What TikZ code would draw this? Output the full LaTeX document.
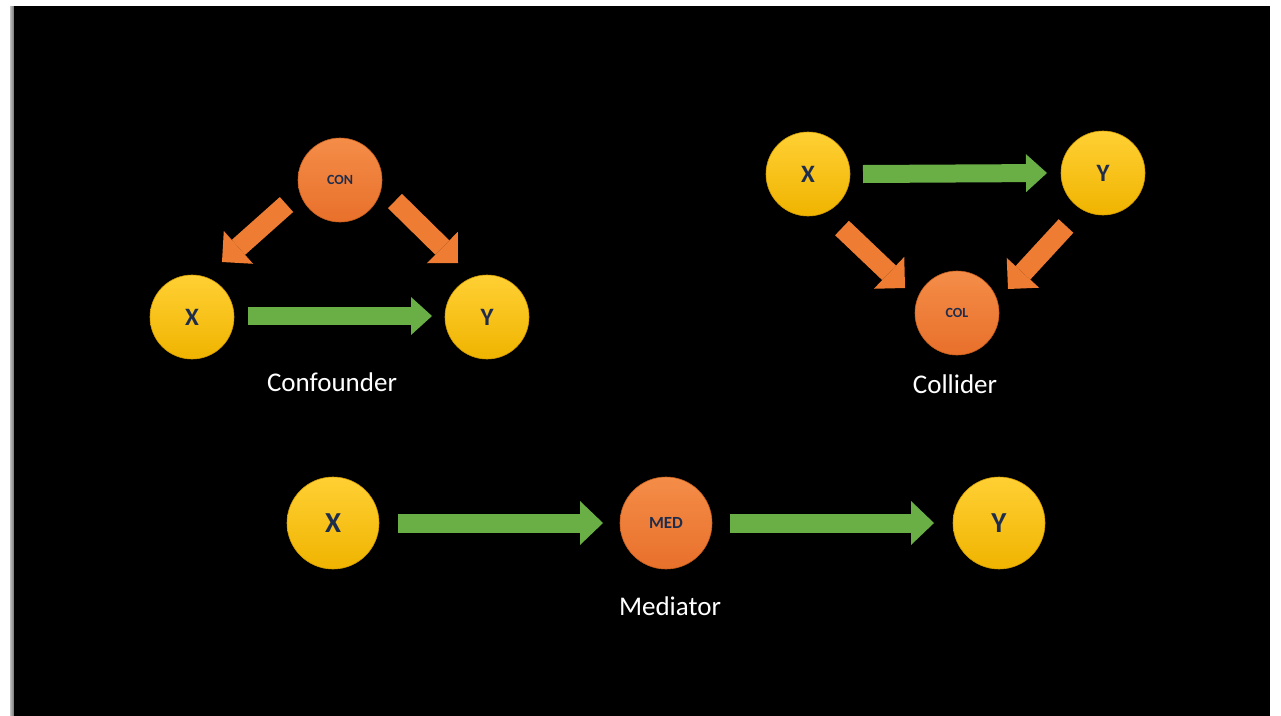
\documentclass[tikz,border=0pt]{standalone}
\usepackage{fontspec}
\setmainfont{Carlito}
\usetikzlibrary{arrows.meta,calc}

\definecolor{yelTop}{HTML}{FFD034}
\definecolor{yelBot}{HTML}{F0B400}
\definecolor{yelEdge}{HTML}{D29C00}
\definecolor{oraTop}{HTML}{F48D48}
\definecolor{oraBot}{HTML}{E8702B}
\definecolor{oraEdge}{HTML}{C9601E}
\definecolor{arrowGreen}{HTML}{6AAF45}
\definecolor{arrowOrange}{HTML}{EE7D33}
\definecolor{labelNavy}{HTML}{1F2D4D}

\begin{document}
\begin{tikzpicture}[x=1pt,y=-1pt,
  varnode/.style={circle,inner sep=0pt,minimum size=84pt,text=labelNavy,line width=0.6pt},
  yel/.style={varnode,top color=yelTop,bottom color=yelBot,draw=yelEdge},
  ora/.style={varnode,top color=oraTop,bottom color=oraBot,draw=oraEdge},
  bigletter/.style={font=\bfseries\fontsize{25}{25}\selectfont},
  smallword/.style={font=\bfseries\fontsize{14}{14}\selectfont},
  caption/.style={text=white,inner sep=0pt,font=\fontsize{27}{27}\selectfont},
  garrow/.style={draw=arrowGreen,line width=18pt,
    -{Triangle[length=21pt,width=38pt,line width=0pt]}},
  wgarrow/.style={draw=arrowGreen,line width=19pt,
    -{Triangle[length=23pt,width=44pt,line width=0pt]}},
  oarrow/.style={draw=arrowOrange,line width=20pt,
    -{Triangle[length=22pt,width=44pt,line width=0pt]}},
]
\useasboundingbox (0,0) rectangle (1281,715);

% page frame: white margin, grey edge, black slide
\fill[white] (0,0) rectangle (1281,715);
\shade[left color=black!25,right color=black!55] (10,6) rectangle (14,717);
\fill[black] (14,6) rectangle (1270,717);

% ---- Confounder ----
\node[ora,smallword] (con) at (340,180) {CON};
\node[yel,bigletter] (cx) at (192,317) {X};
\node[yel,bigletter] (cy) at (487,317) {Y};
\draw[garrow] ($(cx)+(56,-1)$) -- ($(cy)+(-55,-1)$);
\draw[oarrow] ($(con)+(-53.5,24.5)$) -- ($(cx)+(30,-55)$);
\draw[oarrow] ($(con)+(55,21)$) -- ($(cy)+(-29,-54)$);
\node[caption] (conlabel) at (332,382) {Confounder};

% ---- Collider ----
\node[yel,bigletter] (lx) at (808,174) {X};
\node[yel,bigletter] (ly) at (1103,173) {Y};
\node[ora,smallword] (col) at (957,313) {COL};
\draw[garrow] ($(lx)+(55,0)$) -- ($(ly)+(-56,0)$);
\draw[oarrow] ($(lx)+(34,54)$) -- ($(col)+(-52,-25)$);
\draw[oarrow] ($(ly)+(-37,53)$) -- ($(col)+(51,-24)$);
\node[caption] (collabel) at (955,384) {Collider};

% ---- Mediator ----
\node[yel,minimum size=92pt,font=\bfseries\fontsize{29}{29}\selectfont] (mx) at (333,523) {X};
\node[ora,minimum size=92pt,font=\bfseries\fontsize{17}{17}\selectfont] (med) at (666,523) {MED};
\node[yel,minimum size=92pt,font=\bfseries\fontsize{29}{29}\selectfont] (my) at (999,523) {Y};
\draw[wgarrow] ($(mx)+(65,0)$) -- ($(med)+(-63,0)$);
\draw[wgarrow] ($(med)+(64,0)$) -- ($(my)+(-65,0)$);
\node[caption] (medlabel) at (670,606) {Mediator};
\end{tikzpicture}
\end{document}
